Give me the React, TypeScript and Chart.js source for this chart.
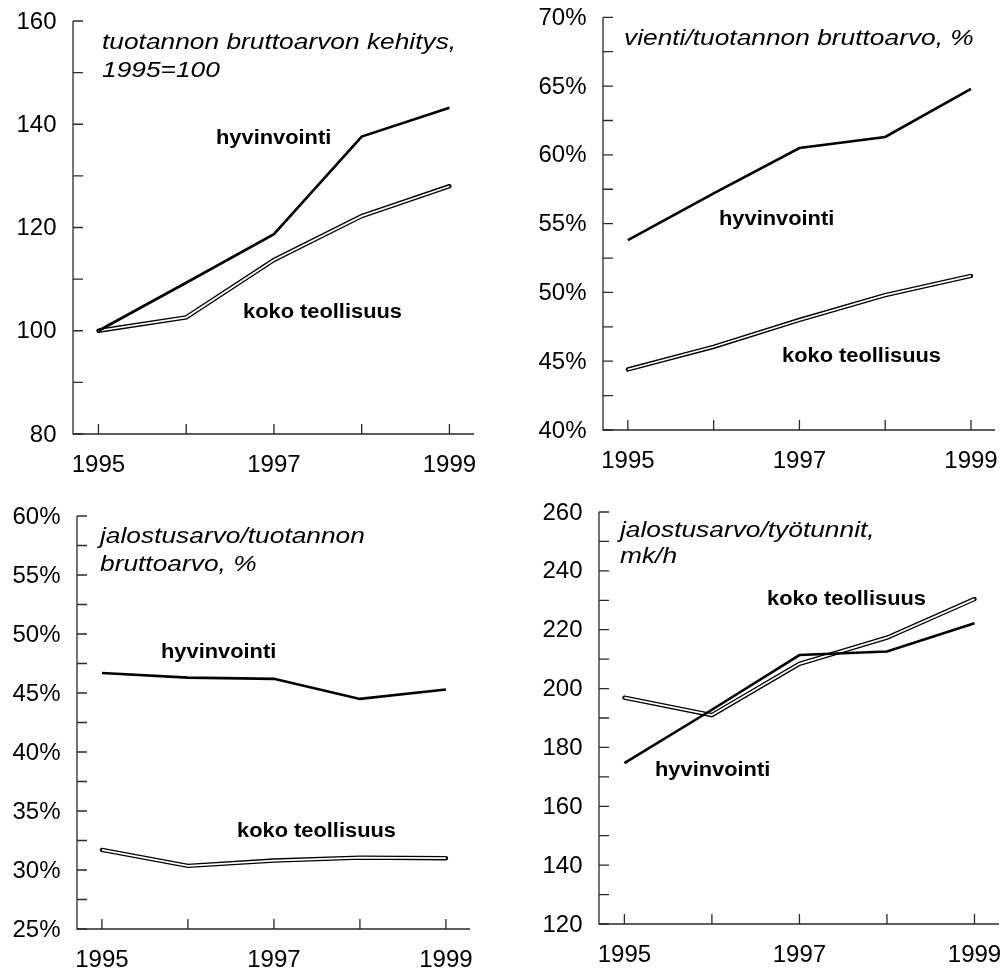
import React, { useEffect, useRef } from 'react';
import { Chart, registerables } from 'chart.js';

Chart.register(...registerables);

// ---------- data ----------
const years = [1995, 1996, 1997, 1998, 1999];
const xTickLabels = ['1995', '1997', '1999'];
const seriesNames = ['hyvinvointi', 'koko teollisuus'];

// panel 1: tuotannon bruttoarvon kehitys, 1995=100
const bruttoHyvinvointi = [100, 109.3, 118.7, 137.6, 143.2];
const bruttoKoko = [100, 102.6, 113.7, 122.2, 128.0];
const bruttoYTicks = [80, 100, 120, 140, 160];

// panel 2: vienti/tuotannon bruttoarvo, %
const vientiHyvinvointi = [53.8, 57.2, 60.5, 61.3, 64.8];
const vientiKoko = [44.4, 46.05, 48.0, 49.8, 51.2];
const vientiYTicks = [40, 45, 50, 55, 60, 65, 70];

// panel 3: jalostusarvo/tuotannon bruttoarvo, %
const jalostusHyvinvointi = [46.7, 46.3, 46.2, 44.5, 45.3];
const jalostusKoko = [31.7, 30.35, 30.8, 31.05, 31.0];
const jalostusYTicks = [25, 30, 35, 40, 45, 50, 55, 60];

// panel 4: jalostusarvo/työtunnit, mk/h
const tuntiHyvinvointi = [174.7, 192.8, 211.4, 212.6, 222.2];
const tuntiKoko = [196.9, 191.0, 208.4, 217.3, 230.4];
const tuntiYTicks = [120, 140, 160, 180, 200, 220, 240, 260];

// ---------- layout / style ----------
const FONT = "'Liberation Sans', Arial, Helvetica, sans-serif";

type Label = { text: string; x: number; y: number };
type Panel = {
  canvas: { left: number; top: number; width: number; height: number };
  area: { left: number; top: number; right: number; bottom: number };
  hyv: number[];
  koko: number[];
  yTicks: number[];
  minorStep: number;
  suffix: string;
  title: Label[];
  labels: Label[];
};

const panels: Panel[] = [
  {
    canvas: { left: 0, top: 0, width: 500, height: 484 },
    area: { left: 73, top: 21, right: 474, bottom: 434 },
    hyv: bruttoHyvinvointi,
    koko: bruttoKoko,
    yTicks: bruttoYTicks,
    minorStep: 10,
    suffix: '',
    title: [
      { text: 'tuotannon bruttoarvon kehitys,', x: 102, y: 49.3 },
      { text: '1995=100', x: 102, y: 77.3 },
    ],
    labels: [
      { text: seriesNames[0], x: 216, y: 144 },
      { text: seriesNames[1], x: 243, y: 318 },
    ],
  },
  {
    canvas: { left: 500, top: 0, width: 505, height: 484 },
    area: { left: 603, top: 17.3, right: 995, bottom: 430 },
    hyv: vientiHyvinvointi,
    koko: vientiKoko,
    yTicks: vientiYTicks,
    minorStep: 2.5,
    suffix: '%',
    title: [{ text: 'vienti/tuotannon bruttoarvo, %', x: 624, y: 45 }],
    labels: [
      { text: seriesNames[0], x: 719, y: 225 },
      { text: seriesNames[1], x: 782, y: 362 },
    ],
  },
  {
    canvas: { left: 0, top: 484, width: 500, height: 485 },
    area: { left: 77, top: 516, right: 470, bottom: 929 },
    hyv: jalostusHyvinvointi,
    koko: jalostusKoko,
    yTicks: jalostusYTicks,
    minorStep: 2.5,
    suffix: '%',
    title: [
      { text: 'jalostusarvo/tuotannon', x: 100, y: 542.7 },
      { text: 'bruttoarvo, %', x: 100, y: 571 },
    ],
    labels: [
      { text: seriesNames[0], x: 161, y: 658 },
      { text: seriesNames[1], x: 237, y: 837 },
    ],
  },
  {
    canvas: { left: 500, top: 484, width: 505, height: 485 },
    area: { left: 599, top: 512, right: 999, bottom: 924 },
    hyv: tuntiHyvinvointi,
    koko: tuntiKoko,
    yTicks: tuntiYTicks,
    minorStep: 10,
    suffix: '',
    title: [
      { text: 'jalostusarvo/työtunnit,', x: 620, y: 536.7 },
      { text: 'mk/h', x: 620, y: 563.3 },
    ],
    labels: [
      { text: seriesNames[1], x: 767, y: 605 },
      { text: seriesNames[0], x: 655, y: 776 },
    ],
  },
];

const X_MIN = 1994.71;
const X_MAX = 1999.28;

function drawStretched(ctx: CanvasRenderingContext2D, text: string, x: number, y: number, sx: number) {
  ctx.save();
  ctx.translate(x, y);
  ctx.scale(sx, 1);
  ctx.fillText(text, 0, 0);
  ctx.restore();
}

function makeAxesPlugin(p: Panel) {
  return {
    id: 'customAxes',
    afterDraw(chart: any) {
      const ctx: CanvasRenderingContext2D = chart.ctx;
      const xs = chart.scales.x;
      const ys = chart.scales.y;
      const ca = chart.chartArea;
      const ox = p.canvas.left;
      const oy = p.canvas.top;
      const yMin = p.yTicks[0];
      const yMax = p.yTicks[p.yTicks.length - 1];
      ctx.save();
      ctx.strokeStyle = '#2a2a2a';
      ctx.lineWidth = 1.3;
      // axis lines
      ctx.beginPath();
      ctx.moveTo(ca.left, ca.top);
      ctx.lineTo(ca.left, ca.bottom);
      ctx.lineTo(ca.right, ca.bottom);
      ctx.stroke();
      // y ticks (inward)
      ctx.beginPath();
      for (let v = yMin; v <= yMax + 1e-9; v += p.minorStep) {
        const y = ys.getPixelForValue(v);
        ctx.moveTo(ca.left, y);
        ctx.lineTo(ca.left + 10, y);
      }
      // x ticks (inward)
      for (const yr of years) {
        const x = xs.getPixelForValue(yr);
        ctx.moveTo(x, ca.bottom);
        ctx.lineTo(x, ca.bottom - 10);
      }
      ctx.stroke();

      ctx.fillStyle = '#000';
      // y tick labels
      ctx.font = `24px ${FONT}`;
      ctx.textAlign = 'right';
      ctx.textBaseline = 'middle';
      for (const v of p.yTicks) {
        const y = ys.getPixelForValue(v);
        ctx.fillText(`${v}${p.suffix}`, ca.left - 16.5, y + 1);
      }
      // x tick labels
      ctx.textAlign = 'center';
      ctx.textBaseline = 'alphabetic';
      for (const lab of xTickLabels) {
        const x = xs.getPixelForValue(Number(lab));
        ctx.fillText(lab, x, ca.bottom + 37.5);
      }
      // titles
      ctx.textAlign = 'left';
      ctx.font = `italic 22.5px ${FONT}`;
      for (const t of p.title) {
        drawStretched(ctx, t.text, t.x - ox, t.y - oy, 1.17);
      }
      // series labels
      ctx.font = `bold 19.5px ${FONT}`;
      for (const l of p.labels) {
        drawStretched(ctx, l.text, l.x - ox, l.y - oy, 1.12);
      }
      ctx.restore();
    },
  };
}

function PanelChart({ p }: { p: Panel }) {
  const ref = useRef<HTMLCanvasElement | null>(null);
  useEffect(() => {
    if (!ref.current) return;
    const toPts = (arr: number[]) => years.map((yr, i) => ({ x: yr, y: arr[i] }));
    const chart = new Chart(ref.current, {
      type: 'line',
      data: {
        datasets: [
          {
            label: seriesNames[0],
            data: toPts(p.hyv),
            borderColor: '#000',
            borderWidth: 2.6,
            pointRadius: 0,
            tension: 0,
            order: 0,
            clip: false as any,
          },
          {
            label: seriesNames[1] + ' (inner)',
            data: toPts(p.koko),
            borderColor: '#fff',
            borderWidth: 1.7,
            pointRadius: 0,
            tension: 0,
            order: 1,
            clip: false as any,
          },
          {
            label: seriesNames[1],
            data: toPts(p.koko),
            borderColor: '#000',
            borderWidth: 4.4,
            borderCapStyle: 'round',
            pointRadius: 0,
            tension: 0,
            order: 2,
            clip: false as any,
          },
        ],
      },
      options: {
        animation: false,
        responsive: false,
        devicePixelRatio: 1,
        layout: {
          padding: {
            left: p.area.left - p.canvas.left,
            top: p.area.top - p.canvas.top,
            right: p.canvas.left + p.canvas.width - p.area.right,
            bottom: p.canvas.top + p.canvas.height - p.area.bottom,
          },
        },
        plugins: {
          legend: { display: false },
          tooltip: { enabled: false },
          title: { display: false },
        },
        scales: {
          x: { type: 'linear', min: X_MIN, max: X_MAX, display: false },
          y: {
            type: 'linear',
            min: p.yTicks[0],
            max: p.yTicks[p.yTicks.length - 1],
            display: false,
          },
        },
      },
      plugins: [makeAxesPlugin(p)],
    });
    return () => chart.destroy();
  }, [p]);
  return (
    <canvas
      ref={ref}
      width={p.canvas.width}
      height={p.canvas.height}
      style={{
        position: 'absolute',
        left: p.canvas.left,
        top: p.canvas.top,
        width: p.canvas.width,
        height: p.canvas.height,
      }}
    />
  );
}

export default function App() {
  return (
    <div
      style={{
        position: 'fixed',
        left: 0,
        top: 0,
        width: 1005,
        height: 969,
        background: '#fff',
        overflow: 'hidden',
      }}
    >
      {panels.map((p, i) => (
        <PanelChart key={i} p={p} />
      ))}
    </div>
  );
}
